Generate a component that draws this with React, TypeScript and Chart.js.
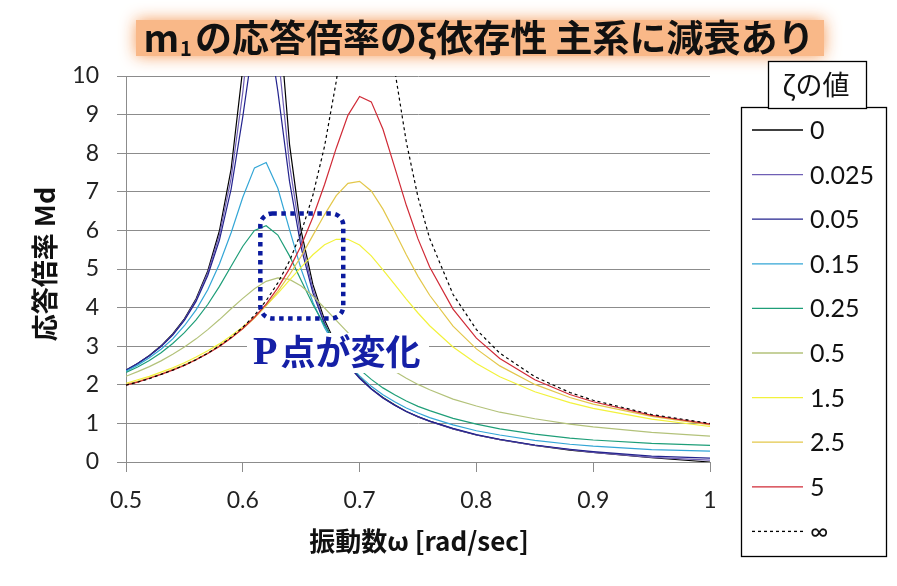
import { useEffect, useRef } from "react";
import { Chart, registerables, type Plugin } from "chart.js";

Chart.register(...registerables);

// 振動数 ω (rad/sec)
const OMEGA = [
  0.5, 0.51, 0.52, 0.53, 0.54, 0.55, 0.56, 0.57, 0.58, 0.59, 0.6, 0.61, 0.62, 0.63,
  0.64, 0.65, 0.66, 0.67, 0.68, 0.69, 0.7, 0.71, 0.72, 0.73, 0.74, 0.75, 0.76,
  0.78, 0.8, 0.82, 0.85, 0.88, 0.9, 0.95, 1.0,
];

// 応答倍率 Md, one list per ζ
const MD_0 = [
  2.38, 2.55, 2.76, 3.01, 3.32, 3.71, 4.23, 4.95, 5.99, 7.59, 10.2, 14.19, 15.96, 11.96,
  8.23, 5.98, 4.6, 3.68, 3.03, 2.56, 2.19, 1.9, 1.67, 1.48, 1.31, 1.17, 1.06,
  0.86, 0.7, 0.58, 0.43, 0.31, 0.25, 0.11, 0.0,
];
const MD_0025 = [
  2.38, 2.55, 2.75, 3.0, 3.3, 3.69, 4.2, 4.9, 5.88, 7.35, 9.58, 12.48, 13.42, 10.65,
  7.71, 5.75, 4.48, 3.61, 2.99, 2.53, 2.17, 1.89, 1.66, 1.47, 1.31, 1.17, 1.05,
  0.86, 0.7, 0.58, 0.43, 0.32, 0.25, 0.12, 0.05,
];
const MD_005 = [
  2.38, 2.55, 2.75, 2.99, 3.29, 3.67, 4.16, 4.83, 5.75, 7.07, 8.95, 11.07, 11.6, 9.61,
  7.27, 5.55, 4.38, 3.57, 2.96, 2.51, 2.17, 1.89, 1.66, 1.47, 1.31, 1.18, 1.06,
  0.87, 0.71, 0.59, 0.44, 0.33, 0.27, 0.15, 0.1,
];
const MD_015 = [
  2.35, 2.51, 2.7, 2.92, 3.19, 3.53, 3.94, 4.46, 5.13, 5.94, 6.86, 7.62, 7.76, 7.09,
  6.02, 4.99, 4.14, 3.48, 2.96, 2.55, 2.23, 1.96, 1.74, 1.56, 1.4, 1.27, 1.15,
  0.96, 0.81, 0.7, 0.56, 0.46, 0.41, 0.32, 0.28,
];
const MD_025 = [
  2.32, 2.46, 2.63, 2.83, 3.07, 3.35, 3.68, 4.08, 4.55, 5.07, 5.59, 6.0, 6.12, 5.88,
  5.34, 4.7, 4.08, 3.54, 3.09, 2.71, 2.4, 2.14, 1.92, 1.74, 1.58, 1.44, 1.33,
  1.13, 0.98, 0.86, 0.72, 0.62, 0.57, 0.48, 0.43,
];
const MD_05 = [
  2.22, 2.34, 2.47, 2.62, 2.79, 2.98, 3.19, 3.43, 3.69, 3.97, 4.24, 4.49, 4.68, 4.77,
  4.73, 4.56, 4.3, 3.99, 3.67, 3.35, 3.06, 2.79, 2.56, 2.35, 2.17, 2.01, 1.87,
  1.63, 1.45, 1.29, 1.12, 0.98, 0.91, 0.77, 0.67,
];
const MD_15 = [
  2.04, 2.13, 2.22, 2.33, 2.44, 2.57, 2.72, 2.88, 3.06, 3.27, 3.5, 3.76, 4.05, 4.37,
  4.71, 5.05, 5.37, 5.63, 5.77, 5.77, 5.62, 5.34, 4.98, 4.6, 4.22, 3.86, 3.53,
  2.98, 2.55, 2.21, 1.82, 1.54, 1.39, 1.11, 0.92,
];
const MD_25 = [
  2.01, 2.09, 2.18, 2.28, 2.4, 2.52, 2.66, 2.82, 3.01, 3.22, 3.45, 3.73, 4.05, 4.42,
  4.85, 5.33, 5.87, 6.41, 6.9, 7.22, 7.27, 7.02, 6.55, 5.97, 5.37, 4.81, 4.32,
  3.52, 2.93, 2.49, 2.01, 1.67, 1.5, 1.18, 0.96,
];
const MD_5 = [
  1.99, 2.07, 2.17, 2.27, 2.38, 2.5, 2.65, 2.81, 2.99, 3.21, 3.46, 3.75, 4.09, 4.51,
  5.01, 5.61, 6.34, 7.19, 8.13, 8.98, 9.47, 9.33, 8.62, 7.64, 6.65, 5.78, 5.05,
  3.96, 3.21, 2.68, 2.13, 1.75, 1.56, 1.21, 0.98,
];
const MD_INF = [
  1.99, 2.07, 2.16, 2.27, 2.38, 2.51, 2.65, 2.82, 3.01, 3.23, 3.49, 3.8, 4.18, 4.64,
  5.21, 5.95, 6.91, 8.18, 9.86, 11.91, 13.74, 13.99, 12.37, 10.17, 8.29, 6.86, 5.79,
  4.34, 3.43, 2.82, 2.21, 1.8, 1.6, 1.23, 1.0,
];

const ZETA_LABELS = ["0", "0.025", "0.05", "0.15", "0.25", "0.5", "1.5", "2.5", "5", "∞"];
const SERIES = [MD_0, MD_0025, MD_005, MD_015, MD_025, MD_05, MD_15, MD_25, MD_5, MD_INF];
const COLORS = [
  "#000000", "#6F5FB5", "#23238E", "#33A6D6", "#1E9E78",
  "#B3C27A", "#F2F23C", "#E3C74A", "#D02A36", "#000000",
];

const X_TICKS = [0.5, 0.6, 0.7, 0.8, 0.9, 1];
const Y_TICKS = [0, 1, 2, 3, 4, 5, 6, 7, 8, 9, 10];

// dotted box round the P points: [ω left, ω right, Md top, Md bottom]
const P_BOX = [0.615, 0.686, 6.44, 3.72];

const FONT_JP = '"Noto Sans CJK JP", "Noto Sans", sans-serif';
const FONT_NUM = 'Lato, "DejaVu Sans", sans-serif';
const GRID = "#8c8c8c";

const decor: Plugin<"line"> = {
  id: "decor",
  afterDatasetsDraw(chart) {
    const { ctx } = chart;
    const x = chart.scales.x;
    const y = chart.scales.y;

    // "P点が変化" with a white ground that hides the lines under it
    ctx.save();
    ctx.fillStyle = "#ffffff";
    ctx.fillRect(247, 333, 182, 40);
    ctx.fillStyle = "#1520A6";
    ctx.textBaseline = "middle";
    ctx.font = 'bold 40px "Liberation Serif", serif';
    ctx.fillText("P", 253, 354);
    const pw = ctx.measureText("P").width;
    ctx.font = `bold 35px ${FONT_JP}`;
    ctx.fillText("点が変化", 253 + pw + 3, 352);
    ctx.restore();

    const l = x.getPixelForValue(P_BOX[0]);
    const r = x.getPixelForValue(P_BOX[1]);
    const t = y.getPixelForValue(P_BOX[2]);
    const b = y.getPixelForValue(P_BOX[3]);
    ctx.save();
    ctx.strokeStyle = "#0B1A9E";
    ctx.lineWidth = 4.5;
    ctx.setLineDash([4.5, 4.5]);
    ctx.beginPath();
    ctx.roundRect(l, t, r - l, b - t, 12);
    ctx.stroke();
    ctx.restore();
  },
  afterDraw(chart) {
    const { ctx } = chart;

    // title with a soft orange ground
    ctx.save();
    ctx.shadowColor = "rgba(244,150,80,0.95)";
    ctx.shadowBlur = 16;
    ctx.fillStyle = "#F9B888";
    ctx.fillRect(136, 20, 688, 36);
    ctx.restore();

    ctx.save();
    ctx.fillStyle = "#111111";
    ctx.textBaseline = "middle";
    const main = `bold 37px ${FONT_JP}`;
    const sub = `bold 20px ${FONT_JP}`;
    const rest = "の応答倍率のξ依存性 主系に減衰あり";
    ctx.font = main;
    const wm = ctx.measureText("m").width;
    const wr = ctx.measureText(rest).width;
    ctx.font = sub;
    const ws = ctx.measureText("1").width;
    let tx = 479 - (wm + ws + 4 + wr) / 2;
    ctx.font = main;
    ctx.fillText("m", tx, 38);
    tx += wm + 1;
    ctx.font = sub;
    ctx.fillText("1", tx, 48);
    tx += ws + 3;
    ctx.font = main;
    ctx.fillText(rest, tx, 38);
    ctx.restore();

    // axis titles
    ctx.save();
    ctx.fillStyle = "#111111";
    ctx.textAlign = "center";
    ctx.textBaseline = "middle";
    ctx.font = `bold 26px ${FONT_JP}`;
    ctx.fillText("振動数ω [rad/sec]", 419, 541);
    ctx.translate(45, 264);
    ctx.rotate(-Math.PI / 2);
    ctx.font = `bold 27px ${FONT_JP}`;
    ctx.fillText("応答倍率 Md", 0, 0);
    ctx.restore();

    // legend
    ctx.save();
    ctx.fillStyle = "#ffffff";
    ctx.fillRect(741, 107, 146, 449);
    ctx.strokeStyle = "#000000";
    ctx.lineWidth = 1.3;
    ctx.strokeRect(741.5, 107.5, 145, 449);
    ctx.fillRect(768, 61, 99, 48);
    ctx.strokeRect(768.5, 61.5, 98, 47);
    ctx.fillStyle = "#111111";
    ctx.textAlign = "center";
    ctx.textBaseline = "middle";
    ctx.font = `27px ${FONT_JP}`;
    ctx.fillText("ζの値", 816, 85);

    ctx.textAlign = "left";
    ctx.font = `25px ${FONT_NUM}`;
    chart.data.datasets.forEach((ds, i) => {
      const ly = 130 + i * 44.6;
      ctx.save();
      ctx.strokeStyle = ds.borderColor as string;
      ctx.lineWidth = 1.3;
      ctx.setLineDash((ds as { borderDash?: number[] }).borderDash ?? []);
      ctx.beginPath();
      ctx.moveTo(752, ly);
      ctx.lineTo(803, ly);
      ctx.stroke();
      ctx.restore();
      ctx.fillText(String(ds.label), 810, ly + 1);
    });
    ctx.restore();
  },
};

export default function App() {
  const canvasRef = useRef<HTMLCanvasElement>(null);

  useEffect(() => {
    document.body.style.margin = "0";
    if (!canvasRef.current) return;

    const chart = new Chart(canvasRef.current, {
      type: "line",
      data: {
        datasets: SERIES.map((vals, i) => ({
          label: ZETA_LABELS[i],
          data: vals.map((v, k) => ({ x: OMEGA[k], y: v })),
          borderColor: COLORS[i],
          borderWidth: 1.2,
          borderDash: i === SERIES.length - 1 ? [3, 3] : undefined,
          pointRadius: 0,
          tension: 0,
          fill: false,
          order: SERIES.length - 1 - i,
        })),
      },
      options: {
        responsive: false,
        animation: false,
        layout: { padding: { left: 0, right: 187, top: 76, bottom: 0 } },
        plugins: {
          legend: { display: false },
          tooltip: { enabled: false },
        },
        scales: {
          x: {
            type: "linear",
            min: 0.5,
            max: 1,
            afterBuildTicks: (scale) => {
              scale.ticks = X_TICKS.map((v) => ({ value: v }));
            },
            afterFit: (scale) => {
              scale.height = 124;
            },
            grid: { drawOnChartArea: false, drawTicks: true, tickLength: 10, color: GRID },
            border: { color: GRID, width: 1 },
            ticks: {
              color: "#222222",
              font: { family: FONT_NUM, size: 23 },
              padding: 15,
              maxRotation: 0,
              callback: (v) => String(Number(Number(v).toFixed(1))),
            },
          },
          y: {
            type: "linear",
            min: 0,
            max: 10,
            afterBuildTicks: (scale) => {
              scale.ticks = Y_TICKS.map((v) => ({ value: v }));
            },
            afterFit: (scale) => {
              scale.width = 126;
            },
            grid: { color: GRID, tickLength: 9, drawTicks: true },
            border: { color: GRID, width: 1 },
            ticks: {
              color: "#222222",
              font: { family: FONT_NUM, size: 23 },
              padding: 18,
            },
          },
        },
      },
      plugins: [decor],
    });

    return () => {
      chart.destroy();
    };
  }, []);

  return (
    <canvas
      ref={canvasRef}
      width={897}
      height={586}
      style={{ display: "block", width: 897, height: 586 }}
    />
  );
}
